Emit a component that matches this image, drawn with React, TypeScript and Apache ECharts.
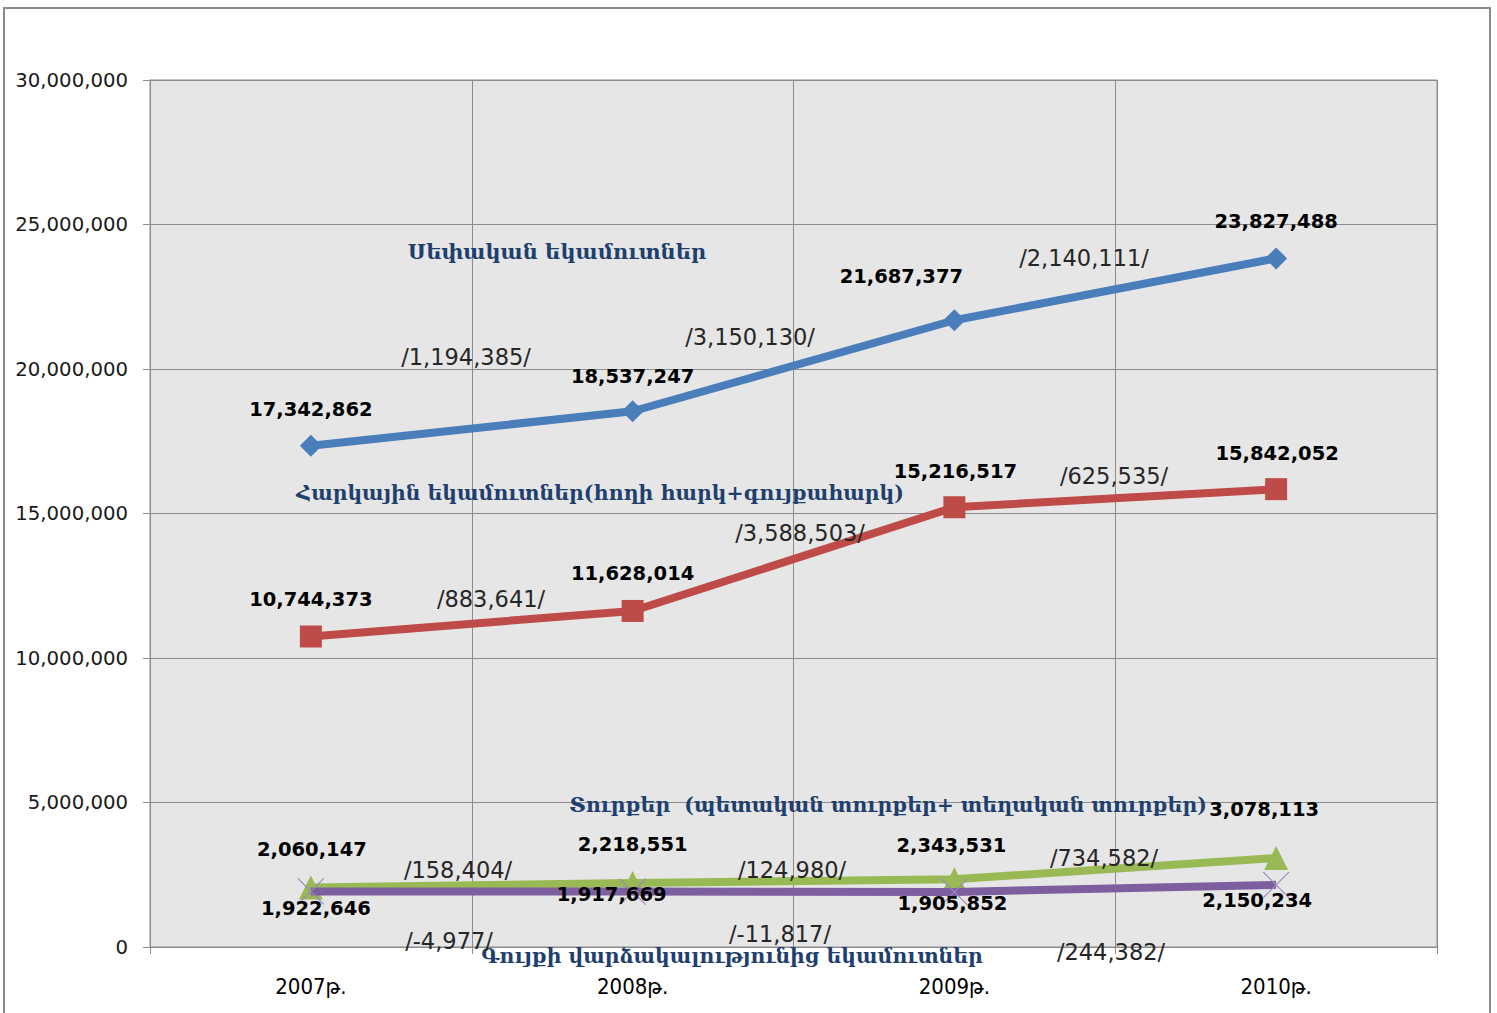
import React, { useEffect, useRef } from "react";
import * as echarts from "echarts";

const categories = ["2007թ.", "2008թ.", "2009թ.", "2010թ."];
const ownRevenue = [17342862, 18537247, 21687377, 23827488];
const taxRevenue = [10744373, 11628014, 15216517, 15842052];
const dutyRevenue = [2060147, 2218551, 2343531, 3078113];
const rentRevenue = [1922646, 1917669, 1905852, 2150234];
const yTicks = [0, 5000000, 10000000, 15000000, 20000000, 25000000, 30000000];

const seriesNames = [
  "Սեփական եկամուտներ",
  "Հարկային եկամուտներ(հողի հարկ+գույքահարկ)",
  "Տուրքեր  (պետական տուրքեր+ տեղական տուրքեր)",
  "Գույքի վարձակալությունից եկամուտներ",
];

// layout (pixel offsets of value labels relative to points)
const ownOff = [[0, -36], [0, -35], [-53, -44], [0, -37]];
const taxOff = [[0, -37], [0, -37], [1, -36], [1, -36]];
const dutyOff = [[1, -38], [0, -38], [-3, -34], [-12, -49]];
const rentOff = [[5, 17], [-21, 3], [-2, 12], [-19, 16]];

// layout: centers of name titles
const namePos = [[557, 251], [600, 493], [888, 805], [732, 956]];
// layout: centers of change labels, per series, per interval
const diffPos = [
  [[466, 357], [750, 337], [1084, 258]],
  [[491, 599], [800, 533], [1114, 476]],
  [[458, 870], [792, 870], [1104, 858]],
  [[449, 941], [780, 934], [1111, 952]],
];

const fmt = (v: number) => v.toLocaleString("en-US");

export default function App() {
  const ref = useRef<HTMLDivElement>(null);
  useEffect(() => {
    if (!ref.current) return;
    const chart = echarts.init(ref.current, undefined, { renderer: "svg" });
    const allData = [ownRevenue, taxRevenue, dutyRevenue, rentRevenue];
    const offs = [ownOff, taxOff, dutyOff, rentOff];
    const colors = ["#4A7EBB", "#BE4B48", "#98B954", "#7D5FA0"];
    const symbols = [
      "diamond",
      "rect",
      "triangle",
      "path://M0,0 L10,10 M10,0 L0,10",
    ];
    const sizes = [22, 22, 24, 26];
    const labelFont = {
      fontFamily: "DejaVu Sans",
      fontWeight: "bold" as const,
      fontSize: 19.5,
      color: "#000",
    };
    const series = allData.map((d, si) => ({
      type: "line" as const,
      name: seriesNames[si],
      data: d.map((v, i) => ({
        value: v,
        label: {
          show: true,
          position: "inside",
          offset: offs[si][i],
          formatter: () => fmt(v),
          align: "center",
          verticalAlign: "middle",
          ...labelFont,
        },
      })),
      symbol: symbols[si],
      symbolSize: sizes[si],
      showAllSymbol: true,
      lineStyle: { color: colors[si], width: 8 },
      itemStyle:
        si === 3
          ? { color: "rgba(0,0,0,0)", borderColor: "#9B87C0", borderWidth: 1.2 }
          : { color: colors[si] },
      z: 2 + si,
    }));

    const graphics: any[] = [
      {
        type: "rect",
        shape: { x: 4, y: 8, width: 1486, height: 1012 },
        style: { fill: "none", stroke: "#8a8a8a", lineWidth: 2 },
        z: 100,
      },
    ];
    const nameSizes = [21, 20.4, 20.4, 20.4];
    namePos.forEach((p, i) => {
      graphics.push({
        type: "text",
        x: p[0],
        y: p[1],
        z: 100,
        style: {
          text: seriesNames[i],
          fill: "#1F3F6E",
          font: `bold ${nameSizes[i]}px 'DejaVu Serif', serif`,
          align: "center",
          verticalAlign: "middle",
        },
      });
    });
    allData.forEach((d, si) => {
      for (let i = 1; i < d.length; i++) {
        const p = diffPos[si][i - 1];
        graphics.push({
          type: "text",
          x: p[0],
          y: p[1],
          z: 100,
          style: {
            text: "/" + fmt(d[i] - d[i - 1]) + "/",
            fill: "#262626",
            font: "22.5px 'DejaVu Sans', sans-serif",
            align: "center",
            verticalAlign: "middle",
          },
        });
      }
    });

    chart.setOption({
      animation: false,
      backgroundColor: "#fff",
      grid: {
        left: 150,
        top: 80,
        width: 1287,
        height: 867,
        show: true,
        backgroundColor: "#E6E6E6",
        borderColor: "#8c8c8c",
        borderWidth: 1,
      },
      xAxis: {
        type: "category",
        data: categories,
        boundaryGap: true,
        axisLine: { show: true, lineStyle: { color: "#8c8c8c", width: 1 } },
        axisTick: { show: true, length: 7, lineStyle: { color: "#8c8c8c" } },
        splitLine: { show: true, lineStyle: { color: "#8c8c8c", width: 1 } },
        axisLabel: {
          margin: 28,
          fontFamily: "'DejaVu Sans Condensed', 'Liberation Sans Narrow', sans-serif",
          fontSize: 22,
          color: "#000",
        },
      },
      yAxis: {
        type: "value",
        min: yTicks[0],
        max: yTicks[yTicks.length - 1],
        interval: yTicks[1] - yTicks[0],
        axisLine: { show: true, lineStyle: { color: "#8c8c8c", width: 1 } },
        axisTick: { show: true, length: 7, lineStyle: { color: "#8c8c8c" } },
        splitLine: { show: true, lineStyle: { color: "#8c8c8c", width: 1 } },
        axisLabel: {
          margin: 22,
          fontFamily: "DejaVu Sans",
          fontSize: 19.7,
          color: "#1a1a1a",
          formatter: (v: number) => fmt(v),
        },
      },
      series,
      graphic: graphics,
    });
    return () => chart.dispose();
  }, []);
  return (
    <div
      ref={ref}
      style={{ position: "fixed", left: 0, top: 0, width: 1497, height: 1013, background: "#fff" }}
    />
  );
}
